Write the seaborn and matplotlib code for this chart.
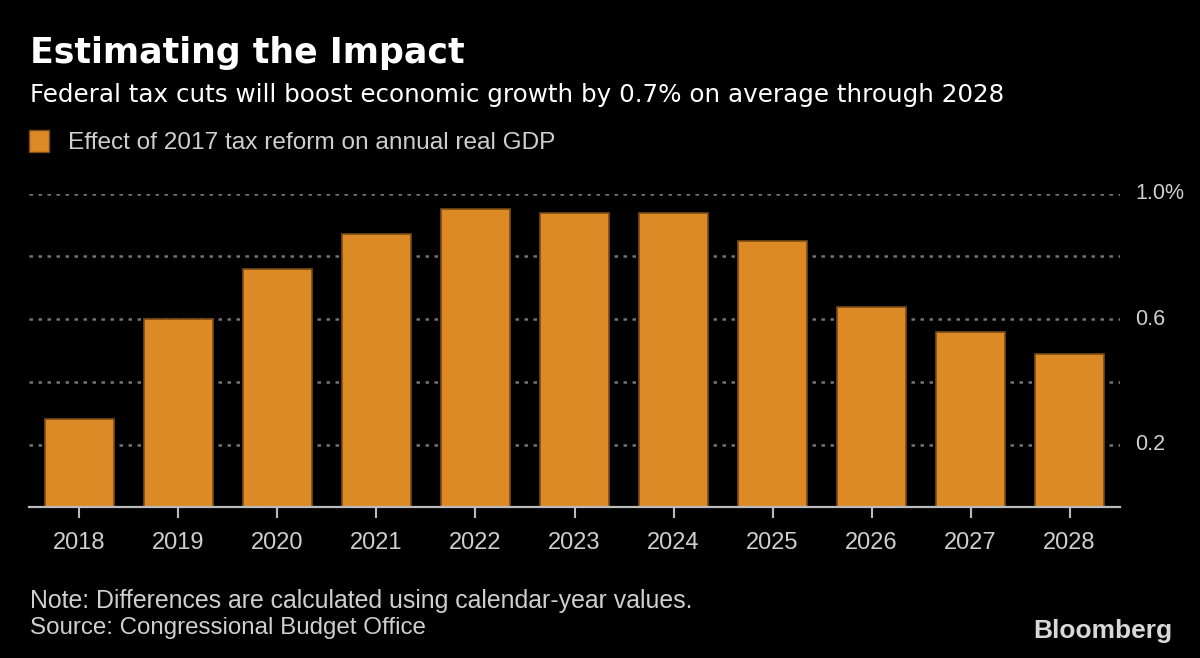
import matplotlib
matplotlib.use("Agg")
import matplotlib.pyplot as plt
import seaborn as sns
import pandas as pd

# data
years = ["2018", "2019", "2020", "2021", "2022", "2023", "2024", "2025", "2026", "2027", "2028"]
gdp_effect = [0.28, 0.60, 0.76, 0.87, 0.95, 0.94, 0.94, 0.85, 0.64, 0.56, 0.49]
grid_levels = [0.2, 0.4, 0.6, 0.8, 1.0]
ytick_vals = [0.2, 0.6, 1.0]
ytick_labels = ["0.2", "0.6", "1.0%"]

BG = "#000000"
BAR = "#DC8A26"
EDGE = "#7A4C14"
TXT = "#CFCFCF"
WIDE = ["DejaVu Sans"]

sns.set_theme(style="dark")
plt.rcParams["font.family"] = ["Liberation Sans", "DejaVu Sans"]
plt.rcParams["figure.facecolor"] = BG
plt.rcParams["axes.facecolor"] = BG

df = pd.DataFrame({"year": years, "effect": gdp_effect})

fig = plt.figure(figsize=(12, 6.58), dpi=100)
ax = fig.add_axes([29 / 1200, 1 - 507.3 / 658, (1120 - 29) / 1200, (507.3 - 193.7) / 658])

# dotted gridlines behind the bars
for g in grid_levels:
    ax.axhline(g, color="#747474", linestyle=(0, (1.4, 2.2)), linewidth=1.8, zorder=0)

sns.barplot(data=df, x="year", y="effect", order=years, color=BAR, saturation=1,
            width=0.69, edgecolor=EDGE, linewidth=1.2, ax=ax, zorder=2)

ax.set_xlim(-0.51, len(years) - 0.49)
ax.set_ylim(0, 1.0)
ax.set_xlabel("")
ax.set_ylabel("")
ax.grid(False)
for s in ["top", "left", "right"]:
    ax.spines[s].set_visible(False)
ax.spines["bottom"].set_color("#BBBBBB")
ax.spines["bottom"].set_linewidth(1.6)
ax.spines["bottom"].set_zorder(3)

ax.yaxis.tick_right()
ax.set_yticks(ytick_vals)
ax.set_yticklabels(ytick_labels)
ax.tick_params(axis="y", length=0, pad=11, labelsize=15.5, labelcolor=TXT)
ax.tick_params(axis="x", direction="out", length=8, width=1.5, color="#BBBBBB",
               pad=10, labelsize=17, labelcolor=TXT, bottom=True)
for lbl in ax.get_yticklabels():
    lbl.set_verticalalignment("center")

# header
fig.text(30 / 1200, 1 - 63 / 658, "Estimating the Impact", fontsize=25, fontweight="bold",
         color="white", ha="left", va="baseline", family=WIDE)
fig.text(30 / 1200, 1 - 102 / 658,
         "Federal tax cuts will boost economic growth by 0.7% on average through 2028",
         fontsize=17.7, color="white", ha="left", va="baseline", family=WIDE)

# legend
fig.patches.append(plt.Rectangle((29 / 1200, 1 - 152 / 658), 20 / 1200, 22 / 658,
                                 transform=fig.transFigure, facecolor=BAR, edgecolor=EDGE,
                                 linewidth=1))
fig.text(68 / 1200, 1 - 149 / 658, "Effect of 2017 tax reform on annual real GDP",
         fontsize=17.6, color=TXT, ha="left", va="baseline")

# footer
fig.text(30 / 1200, 1 - 608 / 658, "Note: Differences are calculated using calendar-year values.",
         fontsize=17.9, color=TXT, ha="left", va="baseline")
fig.text(30 / 1200, 1 - 634 / 658, "Source: Congressional Budget Office",
         fontsize=17.4, color=TXT, ha="left", va="baseline")
fig.text(1172 / 1200, 1 - 638 / 658, "Bloomberg", fontsize=19, fontweight="bold",
         color="#D8D8D8", ha="right", va="baseline")

fig.savefig("out.png", dpi=100, facecolor=BG)
